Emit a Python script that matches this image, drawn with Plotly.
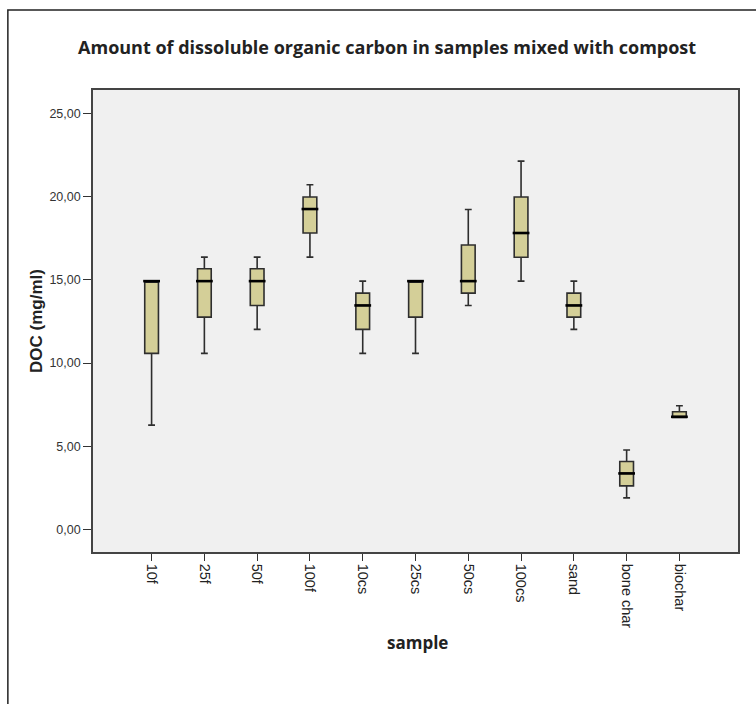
import plotly.graph_objects as go

categories = ["10f", "25f", "50f", "100f", "10cs", "25cs", "50cs", "100cs", "sand", "bone char", "biochar"]
lower_whisker = [6.27, 10.58, 12.02, 16.36, 10.58, 10.58, 13.46, 14.92, 12.02, 1.90, 6.73]
q1_values     = [10.58, 12.76, 13.46, 17.81, 12.02, 12.76, 14.20, 16.35, 12.76, 2.62, 6.73]
median_values = [14.92, 14.92, 14.92, 19.25, 13.46, 14.92, 14.92, 17.81, 13.46, 3.37, 6.77]
q3_values     = [14.92, 15.66, 15.66, 19.97, 14.20, 14.92, 17.09, 19.97, 14.20, 4.09, 7.07]
upper_whisker = [14.92, 16.36, 16.36, 20.71, 14.92, 14.92, 19.22, 22.13, 14.92, 4.78, 7.43]
y_ticks = [0, 5, 10, 15, 20, 25]

fig = go.Figure()
fig.add_trace(go.Box(
    x=categories,
    q1=q1_values,
    median=median_values,
    q3=q3_values,
    lowerfence=lower_whisker,
    upperfence=upper_whisker,
    fillcolor="#D4CF98",
    line=dict(color="#2E2E2E", width=1.6),
    width=0.26,
    whiskerwidth=0.5,
    boxpoints=False,
    hoverinfo="skip",
    showlegend=False,
))
fig.add_trace(go.Scatter(
    x=categories,
    y=median_values,
    mode="markers",
    marker=dict(symbol="line-ew", size=12, line=dict(color="#000000", width=2.6)),
    hoverinfo="skip",
    showlegend=False,
))

fig.update_layout(
    width=756, height=704,
    margin=dict(l=93, r=18, t=90, b=152),
    paper_bgcolor="white",
    plot_bgcolor="#F0F0F0",
    separators=",.",
    font=dict(family="Liberation Sans, Arial", size=12, color="#222222"),
    title=dict(
        text="<b>Amount of dissoluble organic carbon in samples mixed with compost</b>",
        x=0.512, xanchor="center", y=0.932, yanchor="middle",
        font=dict(family="Open Sans", size=18, color="#222222"),
    ),
    xaxis=dict(
        type="category",
        range=[-1.11, 11.11],
        tickangle=90,
        ticks="outside", ticklen=7, tickcolor="#333333", tickwidth=1.2,
        showline=True, linecolor="#444444", linewidth=1.6, mirror=True,
        showgrid=False, zeroline=False,
        tickfont=dict(family="Liberation Sans, Arial", size=14.5, color="#222222"),
    ),
    yaxis=dict(
        range=[-1.35, 26.4],
        tickvals=y_ticks,
        tickformat=".2f",
        ticks="outside", ticklen=8, tickcolor="#333333", tickwidth=1.2,
        showline=True, linecolor="#444444", linewidth=1.6, mirror=True,
        showgrid=False, zeroline=False,
        tickfont=dict(family="Liberation Sans, Arial", size=12.5, color="#333333"),
        title=dict(text="<b>DOC (mg/ml)</b>", standoff=2,
                   font=dict(family="Liberation Sans, Arial", size=17, color="#222222")),
    ),
    annotations=[dict(
        text="<b>sample</b>", xref="paper", yref="paper",
        x=0.503, y=-0.195, xanchor="center", yanchor="middle", showarrow=False,
        font=dict(family="Open Sans", size=17, color="#222222"),
    )],
    shapes=[dict(
        type="rect", xref="paper", yref="paper",
        x0=-0.132, x1=1.04, y0=-0.36, y1=1.173,
        line=dict(color="#222222", width=1.5), fillcolor="rgba(0,0,0,0)", layer="below",
    )],
)

fig.write_html("out.html")
